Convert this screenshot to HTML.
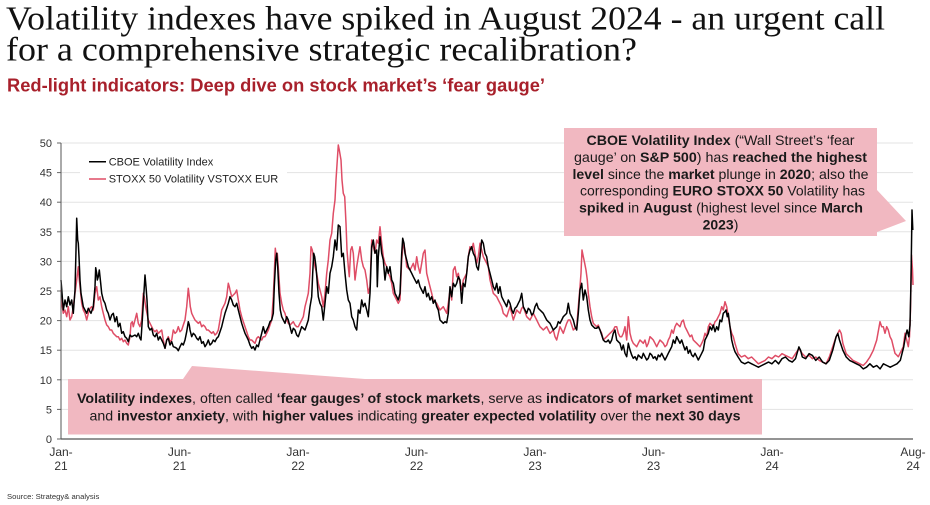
<!DOCTYPE html>
<html>
<head>
<meta charset="utf-8">
<style>
  html,body{margin:0;padding:0;background:#fff;}
  body{width:930px;height:505px;overflow:hidden;}
  svg{display:block;}
  .sans{font-family:"Liberation Sans",Arial,sans-serif;}
  .serif{font-family:"Liberation Serif","Times New Roman",serif;}
  .b{font-weight:bold;}
</style>
</head>
<body>
<svg width="930" height="505" viewBox="0 0 930 505" xmlns="http://www.w3.org/2000/svg">
  <!-- Title -->
  <text class="serif" x="6" y="29.5" font-size="34" fill="#111" textLength="879" lengthAdjust="spacingAndGlyphs">Volatility indexes have spiked in August 2024 - an urgent call</text>
  <text class="serif" x="6" y="60.5" font-size="34" fill="#111" textLength="631" lengthAdjust="spacingAndGlyphs">for a comprehensive strategic recalibration?</text>
  <text class="sans b" x="7" y="91.5" font-size="18" fill="#a8202b" textLength="538" lengthAdjust="spacingAndGlyphs">Red-light indicators: Deep dive on stock market’s ‘fear gauge’</text>

  <!-- Gridlines -->
  <g stroke="#e3e3e3" stroke-width="1">
    <line x1="61" y1="143" x2="913" y2="143"/>
    <line x1="61" y1="172.6" x2="913" y2="172.6"/>
    <line x1="61" y1="202.2" x2="913" y2="202.2"/>
    <line x1="61" y1="231.8" x2="913" y2="231.8"/>
    <line x1="61" y1="261.4" x2="913" y2="261.4"/>
    <line x1="61" y1="291" x2="913" y2="291"/>
    <line x1="61" y1="320.6" x2="913" y2="320.6"/>
    <line x1="61" y1="350.2" x2="913" y2="350.2"/>
    <line x1="61" y1="379.8" x2="913" y2="379.8"/>
    <line x1="61" y1="409.4" x2="913" y2="409.4"/>
  </g>

  <!-- Y labels -->
  <g class="sans" font-size="11" fill="#333" text-anchor="end">
    <text x="52" y="147">50</text>
    <text x="52" y="176.6">45</text>
    <text x="52" y="206.2">40</text>
    <text x="52" y="235.8">35</text>
    <text x="52" y="265.4">30</text>
    <text x="52" y="295">25</text>
    <text x="52" y="324.6">20</text>
    <text x="52" y="354.2">15</text>
    <text x="52" y="383.8">10</text>
    <text x="52" y="413.4">5</text>
    <text x="52" y="443">0</text>
  </g>
  <g stroke="#666" stroke-width="1">
    <line x1="57" y1="143" x2="61" y2="143"/>
    <line x1="57" y1="172.6" x2="61" y2="172.6"/>
    <line x1="57" y1="202.2" x2="61" y2="202.2"/>
    <line x1="57" y1="231.8" x2="61" y2="231.8"/>
    <line x1="57" y1="261.4" x2="61" y2="261.4"/>
    <line x1="57" y1="291" x2="61" y2="291"/>
    <line x1="57" y1="320.6" x2="61" y2="320.6"/>
    <line x1="57" y1="350.2" x2="61" y2="350.2"/>
    <line x1="57" y1="379.8" x2="61" y2="379.8"/>
    <line x1="57" y1="409.4" x2="61" y2="409.4"/>
    <line x1="57" y1="439" x2="61" y2="439"/>
  </g>

  <!-- Legend background -->
  <rect x="80" y="148" width="207" height="47" fill="#fff"/>
  <line x1="89" y1="161.7" x2="106" y2="161.7" stroke="#000" stroke-width="1.5"/>
  <line x1="89" y1="179" x2="106" y2="179" stroke="#df4d66" stroke-width="1.5"/>
  <text class="sans" x="108.7" y="165.3" font-size="11" fill="#222">CBOE Volatility Index</text>
  <text class="sans" x="108.7" y="182.7" font-size="11" fill="#222">STOXX 50 Volatility VSTOXX EUR</text>

  <!-- Red series (VSTOXX) -->
  <polyline fill="none" stroke="#df4d66" stroke-width="1.5" stroke-linejoin="round" points="
61,290 62.3,306.7 63.3,313.3 65,310 66.7,316.7 68.3,306.7 70,320 71.7,316.7 73.3,306.7 75,293.3 76.7,280 78.3,266.7 79,276.7 80,286.7 81.7,303.3 83.3,310 85,313.3 86.7,320 88.3,313.3 90,308.3 91.7,306.7 93.3,310 95,293.3 96.7,286.7 98.3,300 100,296.7 101.7,306.7 103.3,313.3 105,320 106.7,325 108.3,326.7 110,330 111.7,330 113.3,333.3 115,335 116.7,336.7 118.3,336.7 120,340 121.7,338.3 123.3,341.7 125,340 126.7,343.3 128.3,345 130,336.7 131,323.3 132.3,321.7 133.3,326.7 135,320 136.7,313.3 138.3,323.3 140,326.7 141.7,320 143.3,293.3 144.3,296.7 145.7,306.7 147,313.3 148.3,320 150,323.3 151.7,326.7 153.3,330 155,331.7 156.7,330 158.3,333.3 160,331.7 161.7,330 163.3,340 165,348.3 166.7,340 168.3,336.7 170,341.7 171.7,340 173.3,330 175,333.3 176.7,331.7 178.3,326.7 180,331.7 181.7,330 183.3,325 185,320 186.7,306.7 188.3,288.3 189.3,296.7 190.3,306.7 191.7,313.3 193.3,316.7 195,320 196.7,321.7 198.3,323.3 200,321.7 201.7,326.7 203.3,325 205,326.7 206.7,330 208.3,330 210,331.7 211.7,333.3 213.3,331.7 215,335 216.7,333.3 218.3,330 220,320 221.7,310 223.3,306.7 225,303.3 226.7,296.7 228.3,283.3 229.3,286.7 230,290 231.7,296.7 233.3,295 235,293.3 236.7,290 238.3,300 240,310 241.7,316.7 243.3,321.7 245,326.7 246.7,331.7 248.3,336.7 250,340 251.7,340 253.3,341.7 255,343.3 256.7,338.3 258.3,336.7 260,338.3 261.7,340 263.3,336.7 265,336.7 266.7,333.3 268.3,330 270,325 271.7,320 273.3,296.7 274.3,273.3 275.3,248.3 276.3,256.7 277.3,253.3 278.7,273.3 280,293.3 281.7,303.3 283.3,310 285,313.3 286.7,320 288.3,323.3 290,325 291.7,323.3 293.3,321.7 295,325 296.7,326.7 298.3,326.7 300,323.3 301.7,320 303.3,316.7 305,306.7 306.7,300 308.3,293.3 310,273.3 311,246.7 312.3,250 313.7,260 315,266.7 316.7,273.3 318.3,283.3 320,290 321.7,296.7 323.3,306.7 325,293.3 326.7,273.3 328.3,260 330,240 331.7,233.3 333.3,213.3 335,200 336,180 337.3,160 338.3,145 339.3,150
341,160 342,180 343.3,193.3 344.7,196.7 346,223.3 347,250 348.3,266.7 349.3,276.7 350.7,250 352,246.7 353.3,253.3 355,280 356.7,266.7 358.3,256.7 360,246.7 361.7,260 363.3,266.7 365,270 366.7,280 368.3,293.3 370,286.7 371.7,240 373.3,246.7 375,253.3 376.7,240 378.3,243.3 380,226.7 381.7,243.3 383.3,256.7 385,263.3 386.7,266.7 388.3,273.3 390,276.7 391.7,283.3 393.3,293.3 395,296.7 396.7,300 398.3,303.3 400,300 401.7,260 403.3,243.3 405,250 406.7,266.7 408.3,268.3 410,270 411.7,266.7 413.3,263.3 415,270 416.7,256.7 418.3,266.7 420,273.3 421.7,263.3 423.3,253.3 425,250 426.7,273.3 428.3,280 430,286.7 431.7,293.3 433.3,300 435,301.7 436.7,303.3 438.3,306.7 440,310 441.7,308.3 443.3,306.7 445,310 446.7,313.3 448.3,303.3 450,290 451.7,300 453.3,270 455,266.7 456.7,276.7 458.3,273.3 460,283.3 461.7,290 463.3,280 465,276.7 466.7,273.3 468.3,256.7 470,246.7 471.7,250 473.3,243.3 475,253.3 476.7,263.3 478.3,256.7 480,243.3 481.7,250 483.3,256.7 485,260 486.7,263.3 488.3,266.7 490,280 491.7,286.7 493.3,293.3 495,295 496.7,296.7 498.3,300 500,303.3 501.7,306.7 503.3,313.3 505,315 506.7,316.7 508.3,311.7 510,306.7 511.7,313.3 513.3,320 515,315 516.7,310 518.3,311.7 520,313.3 521.7,308.3 523.3,306.7 525,311.7 526.7,316.7 528.3,318.3 530,320 531.7,316.7 533.3,313.3 535,316.7 536.7,320 538.3,323.3 540,326.7 541.7,328.3 543.3,330 545,328.3 546.7,326.7 548.3,330 550,333.3 551.7,331.7 553.3,330 555,336.7 556.7,340 558.3,333.3 560,326.7 561.7,330 563.3,333.3 565,328.3 566.7,323.3 568.3,320 570,320 571.7,325 573.3,330 575,328.3 576.7,326.7 578.3,306.7 580,286.7 581,273.3 582,250 583.3,256.7 584.7,263.3 586,270 587.3,280 588.3,293.3 590,306.7 591.7,316.7 593.3,323.3 595,325 596.7,326.7 598.3,325 600,330 601.7,333.3 603.3,340 605,338.3 606.7,336.7 608.3,335 610,333.3 611.7,331.7 613.3,330 615,326.7 616.7,326.7 618.3,333.3 620,336.7
621.7,336.7 623.3,333.3 625,326.7 626.7,340 628.3,316.7 630,333.3 631.7,340 633.3,343.3 635,345 636.7,346.7 638.3,343.3 640,340 641.7,341.7 643.3,343.3 645,340 646.7,346.7 648.3,343.3 650,336.7 651.7,338.3 653.3,340 655,343.3 656.7,346.7 658.3,343.3 660,340 661.7,341.7 663.3,343.3 665,346.7 666.7,345 668.3,340 670,336.7 671.7,330 673.3,333.3 675,326.7 676.7,323.3 678.3,325 680,326.7 681.7,321.7 683.3,320 685,326.7 686.7,330 688.3,333.3 690,336.7 691.7,335 693.3,340 695,341.7 696.7,343.3 698.3,345 700,346.7 701.7,343.3 703.3,340 705,333.3 706.7,336.7 708.3,326.7 710,323.3 711.7,325 713.3,326.7 715,321.7 716.7,320 718.3,316.7 720,313.3 721.7,306.7 723.3,310 725,301.7 726.7,306.7 728.3,316.7 730,326.7 731.7,333.3 733.3,336.7 735,343.3
738.1,353.7 741.4,357 744.8,355.4 748.2,358.7 751.6,357 755,360.4 758.4,363.8 761.7,362.1 765.1,360.4 768.5,357 771.9,358.7 775.3,355.4 778.6,357 782,353.7 785.4,355.4 788.8,357 792.2,358.7 795.5,353.7 798.9,348.6 802.3,353.7 805.7,357 809.1,355.4 812.4,358.7 815.8,357 819.2,360.4 822.6,362.1 826,363.8 829.3,357 832.7,346.9 836.1,336.8 839.5,330 841.2,333.4 842.9,343.5 846.2,353.7 849.6,357 853,360.4 856.4,362.1 859.8,363.8 863.2,365.5 866.5,362.1 869.9,357 873.3,350.3 876.7,340.1 880,321.7 881.7,326.7 883.3,326.7 885,333.3 886.7,326.7 888.3,330 890,336.7 891.7,340 893.3,346.7 895,353.3 896.7,355 898.3,356.7 900,353.3 901.7,350 903.3,346.7 905,333.3 906.7,340 908.3,346.7 909.5,336.7 910.5,310 911.5,255 912.5,270 913,285"/>

  <!-- Black series (VIX) -->
  <polyline fill="none" stroke="#000" stroke-width="1.5" stroke-linejoin="round" points="
61,280 63.3,310 65,300 66.7,306.7 68.3,296.7 70,305 71.7,300 73.3,313.3 75,290 76,250 76.7,218.3 77.7,240 78.3,243.3 79,256.7 80,280 81,293.3 83.3,306.7 86.7,313.3 88.3,308.3 91,313.3 93.3,306.7 95,286.7 95.7,267.7 96.7,273.3 97.3,280 98.3,276.7 99.3,270 100.7,283.3 101.7,293.3 103.3,300 105,303.3 106.7,310 108.3,313.3 110,320 111.7,315 113.3,313.3 115,321.7 116.7,316.7 118.3,326.7 120,323.3 121.7,333.3 123.3,331.7 125,336.7 126.7,338.3 128.3,341.7 130,335 131.7,336.7 135,335 136.7,336.7 138.3,333.3 140,338.3 141,340 142.3,320 143.7,296.7 145,275 146,286.7 147,300 148.3,326.7 150,330 151.7,328.3 153.3,335 155,336.7 156.7,333.3 158.3,340 160,336.7 161.7,340 163.3,343.3 165,348.3 166.7,340 168.3,338.3 170,345 171.7,341.7 173.3,346.7 175,347.3 176.7,348.3 178.3,350.7 180,346.7 181.7,343.3 183.3,345 185,340 186.7,331.7 188.3,321.7 189.3,325 190,330 191.7,336.7 193.3,333.3 195,335 196.7,338.3 198.3,340 200,336.7 201.7,343.3 203.3,341.7 205,346.7 206.7,344 208.3,340 210,345 211.7,343.3 213.3,340 215,341.7 216.7,338.3 218.3,336.7 220,331.7 221.7,326.7 223.3,320 225,313.3 226.7,308.3 228.3,303.3 230,296.7 231.7,300 233.3,305 235,306.7 236.7,303.3 238.3,310 240,316.7 241.7,323.3 243.3,328.3 245,333.3 246.7,336.7 248.3,340 250,345 251.7,348.3 253.3,346.7 255,350 256.7,345 258.3,346.7 260,340 261.7,333.3 263.3,326.7 265,333.3 266.7,330 268.3,326.7 270,321.7 271.7,320 273.3,313.3 274.3,286.7 275.7,260 276.7,253.3 277.7,266.7 279,293.3 280.3,310 281.7,316.7 283.3,320 285,323.3 286.7,316.7 288.3,320 290,326.7 291.7,333.3 293.3,328.3 295,330 296.7,335 298.3,336.7 300,331.7 301.7,326.7 303.3,328.3 305,330 306.7,325 308.3,320 310,306.7 311.7,296.7 312.7,273.3 313.7,253.3 314.7,256.7 316,266.7 317.3,283.3 318.3,296.7 320,303.3 321.7,306.7 323.3,320 325,303.3 326.7,286.7 328.3,293.3 330,273.3 331.7,266.7 333.3,256.7 335,240 336.7,250 338.3,225
340,226.7 341.7,256.7 343.3,253.3 345,273.3 346.7,290 348.3,300 350,303.3 351.7,316.7 353.3,320 355,326.7 356.7,330 358.3,310 360,313.3 361.7,300 363.3,306.7 365,303.3 366.7,310 368.3,316.7 370,293.3 371.7,246.7 373.3,240 375,253.3 376.7,250 377.3,286.7 378.3,256.7 380,236.7 381.7,253.3 383.3,260 385,280 386.7,266.7 388.3,273.3 390,266.7 391.7,280 393.3,283.3 395,293.3 396.7,296.7 398.3,300 400,293.3 401.7,253.3 402.7,238.3 404,243.3 405,253.3 406.7,260 408.3,266.7 410,270 411.7,273.3 413.3,276.7 415,280 416.7,283.3 418.3,280 420,286.7 421.7,290 423.3,293.3 425,286.7 426.7,296.7 428.3,293.3 430,300 431.7,296.7 433.3,303.3 435,300 436.7,306.7 438.3,310 440,320 441.7,321.7 443.3,323.3 445,321.7 446.7,322.7 448.3,313.3 450,286.7 451.7,296.7 453.3,283.3 455,286.7 456.7,283.3 458.3,276.7 460,280 461.7,303.3 463.3,283.3 465,286.7 466.7,273.3 468.3,256.7 470,250 471.7,246.7 473.3,253.3 475,256.7 476.7,266.7 478.3,270 480,256.7 481.7,240 483.3,243.3 485,253.3 486.7,256.7 488.3,266.7 490,273.3 491.7,280 493.3,286.7 495,290 496.7,283.3 498.3,293.3 500,286.7 501.7,296.7 503.3,300 505,303.3 506.7,306.7 508.3,300 510,303.3 511.7,310 513.3,313.3 515,308.3 516.7,306.7 518.3,303.3 520,300 521.7,293.3 523.3,306.7 525,310 526.7,313.3 528.3,308.3 530,310 531.7,315 533.3,313.3 535,306.7 536.7,303.3 538.3,308.3 540,310 541.7,311.7 543.3,313.3 545,316.7 546.7,320 548.3,321.7 550,323.3 551.7,326.7 553.3,330 555,328.3 556.7,326.7 558.3,321.7 560,323.3 561.7,320 563.3,316.7 565,315 566.7,313.3 568.3,303.3 570,313.3 571.7,316.7 573.3,320 575,326.7 576.7,330 578.3,313.3 580,290 581.7,283.3 583.3,300 585,290 586.7,296.7 588.3,310 590,320 591.7,325 593.3,326.7 595,328.3 596.7,328.3 598.3,326.7 600,330 601.7,335 603.3,340 605,341.7 606.7,341.7 608.3,340 610,343.3 611.7,340 613.3,333.3 615,330 616.7,340 618.3,341.7 620,343.3
621.7,350 623.3,345 625,353.3 626.7,356.7 628.3,343.3 630,350 631.7,355 633.3,358.3 635,356.7 636.7,360 638.3,355 640,356.7 641.7,358.3 643.3,353.3 645,356.7 646.7,360 648.3,358.3 650,353.3 651.7,355 653.3,358.3 655,356.7 656.7,360 658.3,355 660,356.7 661.7,353.3 663.3,356.7 665,360 666.7,356.7 668.3,353.3 670,350 671.7,346.7 673.3,340 675,343.3 676.7,336.7 678.3,340 680,343.3 681.7,340 683.3,345 685,350 686.7,346.7 688.3,353.3 690,350 691.7,355 693.3,356.7 695,353.3 696.7,356.7 698.3,360 700,356.7 701.7,353.3 703.3,350 705,340 706.7,336.7 708.3,333.3 710,326.7 711.7,330 713.3,325 715,331.7 716.7,326.7 718.3,330 720,320 721.7,321.7 723.3,313.3 725,311.7 726,310 727.3,316.7 728.3,313.3 730,326.7 731.7,340 733.3,346.7 735,351.7
738.1,357 741.4,362.1 744.8,363.8 748.2,362.1 751.6,363.8 755,365.5 758.4,367.2 761.7,365.5 765.1,363.8 768.5,362.1 771.9,363.8 775.3,360.4 778.6,363.8 782,358.7 785.4,357 788.8,360.4 792.2,362.1 795.5,358.7 798.9,346.9 800.6,350.3 802.3,357 805.7,358.7 809.1,353.7 812.4,355.4 815.8,360.4 819.2,357 822.6,362.1 826,363.8 829.3,360.4 832.7,350.3 834.4,343.5 836.1,336.8 837.8,333.4 839.5,340.1 842.9,350.3 846.2,357 849.6,360.4 853,362.1 856.4,363.8 859.8,365.5 863.2,368.9 866.5,367.2 869.9,363.8 873.3,367.2 876.7,365.5 880.1,368.9 883.4,363.8 886.8,365.5 890.2,367.2 893.6,365.5 897,363.8 900.3,360.4 903.7,346.9 905.4,336.8 907.1,330 908.8,336.8 910,325 911,280 912,210 912.8,230"/>

  <!-- Axes -->
  <line x1="61" y1="143" x2="61" y2="439" stroke="#555" stroke-width="1"/>
  <line x1="61" y1="439" x2="913" y2="439" stroke="#555" stroke-width="1.2"/>

  <!-- X labels -->
  <g class="sans" font-size="12" fill="#333" text-anchor="middle">
    <text x="61" y="456">Jan-</text><text x="61" y="470">21</text>
    <text x="179.5" y="456">Jun-</text><text x="179.5" y="470">21</text>
    <text x="298" y="456">Jan-</text><text x="298" y="470">22</text>
    <text x="416.5" y="456">Jun-</text><text x="416.5" y="470">22</text>
    <text x="535" y="456">Jan-</text><text x="535" y="470">23</text>
    <text x="653.5" y="456">Jun-</text><text x="653.5" y="470">23</text>
    <text x="772" y="456">Jan-</text><text x="772" y="470">24</text>
    <text x="913" y="456">Aug-</text><text x="913" y="470">24</text>
  </g>

  <!-- Top callout -->
  <path d="M564,128 H877 V190 L906,221 L877,232 V236 H564 Z" fill="#f1b8c1"/>
  <g class="sans" font-size="14" fill="#1a1a1a" text-anchor="middle">
    <text x="720.5" y="145" textLength="268" lengthAdjust="spacingAndGlyphs"><tspan font-weight="bold">CBOE Volatility Index</tspan> (“Wall Street’s ‘fear</text>
    <text x="720.5" y="162" textLength="293" lengthAdjust="spacingAndGlyphs">gauge’ on <tspan font-weight="bold">S&amp;P 500</tspan>) has <tspan font-weight="bold">reached the highest</tspan></text>
    <text x="720.5" y="178.8" textLength="296" lengthAdjust="spacingAndGlyphs"><tspan font-weight="bold">level</tspan> since the <tspan font-weight="bold">market</tspan> plunge in <tspan font-weight="bold">2020</tspan>; also the</text>
    <text x="722.5" y="195.7" textLength="285" lengthAdjust="spacingAndGlyphs">corresponding <tspan font-weight="bold">EURO STOXX 50</tspan> Volatility has</text>
    <text x="721" y="212.6" textLength="284" lengthAdjust="spacingAndGlyphs"><tspan font-weight="bold">spiked</tspan> in <tspan font-weight="bold">August</tspan> (highest level since <tspan font-weight="bold">March</tspan></text>
    <text x="720.5" y="229.5"><tspan font-weight="bold">2023</tspan>)</text>
  </g>

  <!-- Bottom callout -->
  <path d="M68,379 H183 L192,366 L365,379 H762 V434.5 H68 Z" fill="#f1b8c1"/>
  <g class="sans" font-size="14" fill="#1a1a1a" text-anchor="middle">
    <text x="415" y="403" textLength="676" lengthAdjust="spacingAndGlyphs"><tspan font-weight="bold">Volatility indexes</tspan>, often called <tspan font-weight="bold">‘fear gauges’ of stock markets</tspan>, serve as <tspan font-weight="bold">indicators of market sentiment</tspan></text>
    <text x="415" y="420.5" textLength="651" lengthAdjust="spacingAndGlyphs">and <tspan font-weight="bold">investor anxiety</tspan>, with <tspan font-weight="bold">higher values</tspan> indicating <tspan font-weight="bold">greater expected volatility</tspan> over the <tspan font-weight="bold">next 30 days</tspan></text>
  </g>

  <!-- Source -->
  <text class="sans" x="7" y="499" font-size="7.7" fill="#333">Source: Strategy&amp; analysis</text>
</svg>
</body>
</html>
